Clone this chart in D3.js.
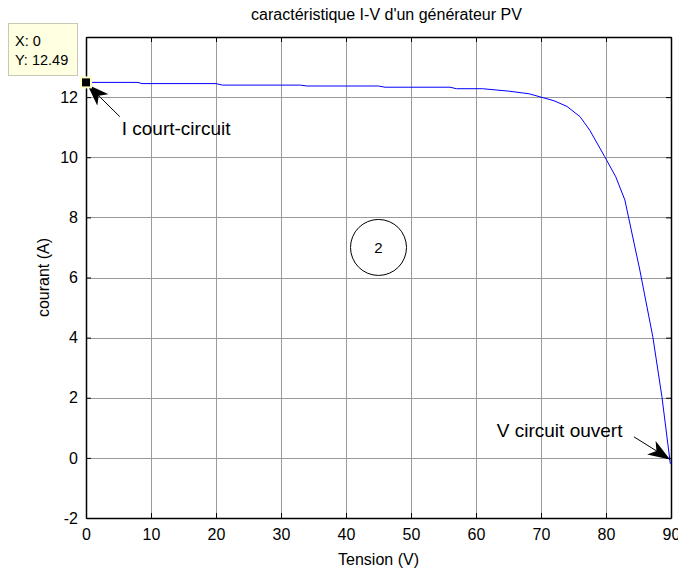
<!DOCTYPE html>
<html>
<head>
<meta charset="utf-8">
<script src="https://cdn.jsdelivr.net/npm/d3@7"></script>
<style>
  html, body { margin: 0; padding: 0; background: #fff; }
  svg { display: block; font-family: "Liberation Sans", Arial, Helvetica, sans-serif; }
</style>
</head>
<body>
<svg id="chart" width="678" height="570"></svg>
<script>
// I-V characteristic of a PV generator
const tension = [0, 8, 8.6, 20, 21, 33, 34, 45, 46, 56, 57, 61, 65, 68.2, 70, 72, 74, 76, 77.5, 79.8, 81.5, 82.9, 85.2, 87.2, 88.6, 89.9];
const courant = [12.49, 12.49, 12.45, 12.45, 12.40, 12.40, 12.37, 12.37, 12.33, 12.33, 12.28, 12.28, 12.2, 12.11, 12.0, 11.88, 11.69, 11.35, 10.9, 10.02, 9.35, 8.58, 6.25, 4.03, 2.04, -0.2];

const xTicks = [0, 10, 20, 30, 40, 50, 60, 70, 80, 90];
const yTicks = [-2, 0, 2, 4, 6, 8, 10, 12, 14];
const yTickLabels = ["-2", "0", "2", "4", "6", "8", "10", "12", ""];

const titleText = "caractéristique I-V d'un générateur PV";
const xLabel = "Tension (V)";
const yLabel = "courant (A)";

// data tip on the short-circuit point
const tipPoint = { x: 0, y: 12.49 };
const tipLines = ["X: 0", "Y: 12.49"];

// text arrows: tail (tx, ty) -> head (hx, hy), label at (lx, ly), in data units
const arrows = [
  { label: "I court-circuit", tx: 5.2, ty: 11.35, hx: 0.2, hy: 12.42, lx: 5.5, ly: 10.97 },
  { label: "V circuit ouvert", tx: 84.3, ty: 0.7, hx: 89.85, hy: -0.05, lx: 63.2, ly: 0.9 }
];

// circled marker
const badge = { x: 45, y: 7.0, text: "2" };

const svg = d3.select("#chart");
const L = 86, R = 671, T = 37, B = 518;

const x = d3.scaleLinear().domain([0, 90]).range([L, R]);
const y = d3.scaleLinear().domain([-2, 14]).range([B, T]);

// grid
const grid = svg.append("g").attr("stroke", "#9a9a9a").attr("stroke-width", 1).attr("shape-rendering", "crispEdges");
grid.selectAll("line.vx").data(xTicks.slice(1, -1)).join("line")
  .attr("x1", d => Math.round(x(d)) + 0.5).attr("x2", d => Math.round(x(d)) + 0.5)
  .attr("y1", T).attr("y2", B);
grid.selectAll("line.hy").data(yTicks.slice(1, -1)).join("line")
  .attr("y1", d => Math.round(y(d)) + 0.5).attr("y2", d => Math.round(y(d)) + 0.5)
  .attr("x1", L).attr("x2", R);

// axes with inward ticks
const fs = 16;
const gx = svg.append("g").attr("transform", `translate(0,${B})`)
  .call(d3.axisBottom(x).tickValues(xTicks).tickSize(-5).tickPadding(11).tickSizeOuter(0));
const gxTop = svg.append("g").attr("transform", `translate(0,${T})`)
  .call(d3.axisTop(x).tickValues(xTicks).tickSize(-5).tickFormat("").tickSizeOuter(0));
const gy = svg.append("g").attr("transform", `translate(${L},0)`)
  .call(d3.axisLeft(y).tickValues(yTicks).tickSize(-5).tickPadding(8).tickSizeOuter(0)
    .tickFormat((d, i) => yTickLabels[i]));
const gyR = svg.append("g").attr("transform", `translate(${R},0)`)
  .call(d3.axisRight(y).tickValues(yTicks).tickSize(-5).tickFormat("").tickSizeOuter(0));

[gx, gxTop, gy, gyR].forEach(g => {
  g.select(".domain").attr("stroke", "#000").attr("stroke-width", 1.5);
  g.selectAll(".tick line").attr("stroke", "#000");
  g.selectAll("text").attr("fill", "#000").style("font-size", fs + "px").style("font-family", "'Liberation Sans', Arial, sans-serif");
});

// curve
const pts = tension.map((v, i) => [v, courant[i]]);
svg.append("path").datum(pts)
  .attr("fill", "none").attr("stroke", "#0000ff").attr("stroke-width", 1)
  .attr("d", d3.line().x(d => x(d[0])).y(d => y(d[1])));

// titles
svg.append("text").attr("x", (L + R) / 2 + 8).attr("y", 20).attr("text-anchor", "middle")
  .style("font-size", "16px").text(titleText);
svg.append("text").attr("x", (L + R) / 2).attr("y", 565).attr("text-anchor", "middle")
  .style("font-size", fs + "px").text(xLabel);
svg.append("text").attr("transform", `translate(49,${(T + B) / 2}) rotate(-90)`).attr("text-anchor", "middle")
  .style("font-size", fs + "px").text(yLabel);

// arrowhead marker
const defs = svg.append("defs");
defs.append("marker").attr("id", "head").attr("viewBox", "0 0 22 16")
  .attr("refX", 22).attr("refY", 8).attr("markerWidth", 22).attr("markerHeight", 16)
  .attr("markerUnits", "userSpaceOnUse").attr("orient", "auto")
  .append("path").attr("d", "M0,0 L22,8 L0,16 L6,8 Z").attr("fill", "#000");

arrows.forEach(a => {
  svg.append("line")
    .attr("x1", x(a.tx)).attr("y1", y(a.ty)).attr("x2", x(a.hx)).attr("y2", y(a.hy))
    .attr("stroke", "#000").attr("stroke-width", 1).attr("marker-end", "url(#head)");
  svg.append("text").attr("x", x(a.lx)).attr("y", y(a.ly)).attr("text-anchor", "start")
    .attr("dy", "0.35em").style("font-size", "19px").text(a.label);
});

// circle with number
svg.append("circle").attr("cx", x(badge.x)).attr("cy", y(badge.y)).attr("r", 28)
  .attr("fill", "none").attr("stroke", "#000").attr("stroke-width", 1);
svg.append("text").attr("x", x(badge.x)).attr("y", y(badge.y)).attr("dy", "0.35em")
  .attr("text-anchor", "middle").style("font-size", "15px").text(badge.text);

// data tip
svg.append("rect").attr("x", x(tipPoint.x) - 5).attr("y", y(tipPoint.y) - 5).attr("width", 10).attr("height", 10)
  .attr("fill", "#000").attr("stroke", "#ffffc8").attr("stroke-width", 2);
svg.append("rect").attr("x", 8.5).attr("y", 23.5).attr("width", 69).attr("height", 52)
  .attr("fill", "#ffffe1").attr("stroke", "#c8c8b4").attr("stroke-width", 1);
tipLines.forEach((t, i) => {
  svg.append("text").attr("x", 15).attr("y", 46 + i * 19).style("font-size", "14.5px").text(t);
});
</script>
</body>
</html>
